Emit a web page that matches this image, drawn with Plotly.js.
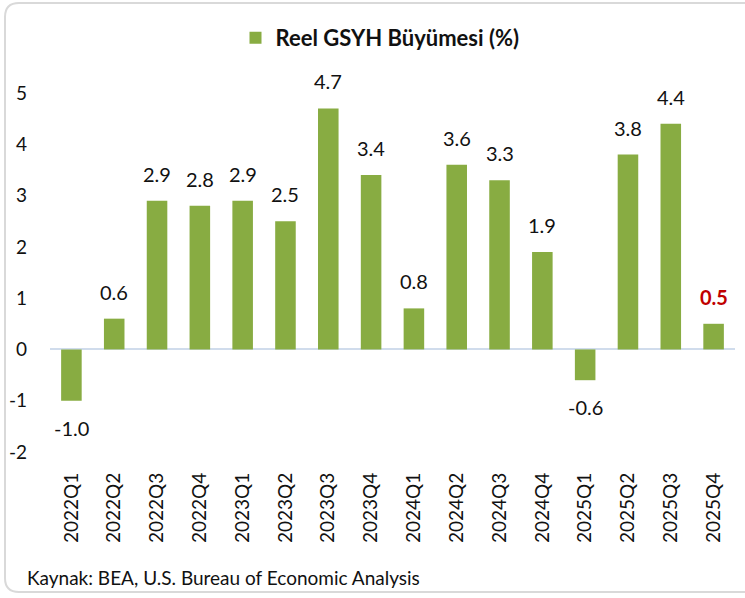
<!DOCTYPE html>
<html>
<head>
<meta charset="utf-8">
<script src="https://cdn.plot.ly/plotly-3.0.1.min.js"></script>
<style>
  html, body { margin: 0; padding: 0; background: #fff; }
  #chart { width: 745px; height: 598px; }
</style>
</head>
<body>
<div id="chart"></div>
<script>
var quarters = ['2022Q1', '2022Q2', '2022Q3', '2022Q4', '2023Q1', '2023Q2', '2023Q3', '2023Q4',
  '2024Q1', '2024Q2', '2024Q3', '2024Q4', '2025Q1', '2025Q2', '2025Q3', '2025Q4'];
var growth = [-1.0, 0.6, 2.9, 2.8, 2.9, 2.5, 4.7, 3.4, 0.8, 3.6, 3.3, 1.9, -0.6, 3.8, 4.4, 0.5];
var yTicks = [-2, -1, 0, 1, 2, 3, 4, 5];
var yTickText = ['-2', '-1', '0', '1', '2', '3', '4', '5'];
var seriesName = 'Reel GSYH Büyümesi (%)';
var sourceNote = 'Kaynak: BEA, U.S. Bureau of Economic Analysis';

// px -> paper helpers (plot area: x 50..735, y 93..452)
var L = 50, R = 735, T = 93, B = 452;
function px(x) { return (x - L) / (R - L); }
function py(y) { return (B - y) / (B - T); }

var last = growth.length - 1;

// value labels, placed at each bar end through the axes
var valueNotes = growth.map(function(v, i) {
  var hl = i === last;
  return {
    x: quarters[i],
    y: v,
    xref: 'x', yref: 'y',
    text: hl ? '<b>' + v.toFixed(1) + '</b>' : v.toFixed(1),
    showarrow: false,
    yanchor: v >= 0 ? 'bottom' : 'top',
    yshift: v >= 0 ? 13 : -13,
    font: { size: 20, color: hl ? '#C00000' : '#111111' }
  };
});

// rounded border around the whole picture
var x0 = 5, y0 = 3, x1 = 770, y1 = 592, r = 14;
var border = 'M ' + px(x0 + r) + ',' + py(y0) +
  ' L ' + px(x1 - r) + ',' + py(y0) +
  ' Q ' + px(x1) + ',' + py(y0) + ' ' + px(x1) + ',' + py(y0 + r) +
  ' L ' + px(x1) + ',' + py(y1 - r) +
  ' Q ' + px(x1) + ',' + py(y1) + ' ' + px(x1 - r) + ',' + py(y1) +
  ' L ' + px(x0 + r) + ',' + py(y1) +
  ' Q ' + px(x0) + ',' + py(y1) + ' ' + px(x0) + ',' + py(y1 - r) +
  ' L ' + px(x0) + ',' + py(y0 + r) +
  ' Q ' + px(x0) + ',' + py(y0) + ' ' + px(x0 + r) + ',' + py(y0) + ' Z';

var data = [{
  type: 'bar',
  name: seriesName,
  x: quarters,
  y: growth,
  width: 0.48,
  marker: { color: '#88AC42' },
  hoverinfo: 'x+y'
}];

var layout = {
  width: 745,
  height: 598,
  margin: { l: L, r: 745 - R, t: T, b: 598 - B },
  paper_bgcolor: '#fff',
  plot_bgcolor: '#fff',
  font: { family: 'Lato, sans-serif', size: 19, color: '#111' },
  showlegend: true,
  legend: {
    orientation: 'h',
    x: px(380), xanchor: 'center',
    y: py(38), yanchor: 'middle',
    font: { size: 22, weight: 'bold', color: '#111' },
    itemwidth: 30
  },
  xaxis: {
    type: 'category',
    tickangle: -90,
    showline: false,
    showgrid: false,
    ticks: '',
    ticklabelstandoff: 16,
    tickfont: { size: 19 }
  },
  yaxis: {
    range: [-2, 5],
    tickvals: yTicks,
    ticktext: yTickText,
    showgrid: false,
    showline: false,
    zeroline: true,
    zerolinecolor: '#D0DCEC',
    zerolinewidth: 2,
    ticks: '',
    ticklabelstandoff: 22,
    tickfont: { size: 19 }
  },
  annotations: valueNotes.concat([{
    xref: 'paper', yref: 'paper',
    x: px(25), y: py(577),
    xanchor: 'left', yanchor: 'middle',
    text: sourceNote,
    showarrow: false,
    font: { size: 19, color: '#111' }
  }]),
  shapes: [{
    type: 'path',
    xref: 'paper', yref: 'paper',
    path: border,
    line: { color: '#D9D9D9', width: 2 },
    layer: 'below'
  }]
};

Plotly.newPlot('chart', data, layout, { displayModeBar: false, staticPlot: true });
</script>
</body>
</html>
